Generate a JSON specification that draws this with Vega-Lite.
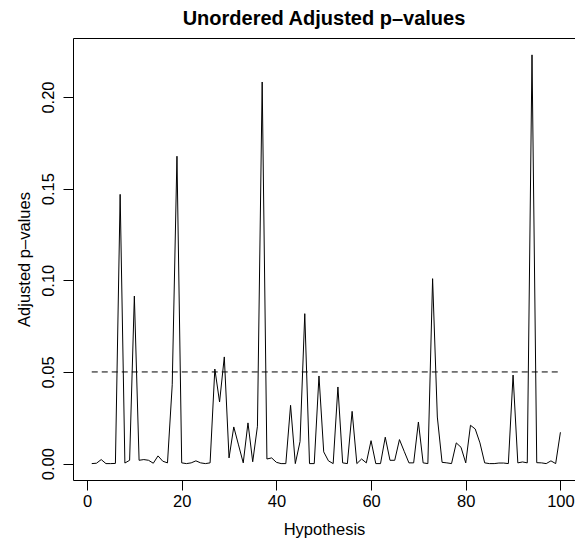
{
  "$schema": "https://vega.github.io/schema/vega-lite/v6.json",
  "width": 502,
  "height": 442,
  "autosize": "none",
  "padding": {"left": 73, "top": 38, "right": 0, "bottom": 61},
  "background": "white",
  "title": {
    "text": "Unordered Adjusted p–values",
    "font": "Liberation Sans",
    "fontSize": 20,
    "fontWeight": "bold",
    "anchor": "middle",
    "offset": 9,
    "color": "black"
  },
  "config": {
    "view": {"stroke": null},
    "axis": {
      "domainColor": "black",
      "domainWidth": 1,
      "tickColor": "black",
      "tickWidth": 1,
      "tickSize": 10,
      "labelColor": "black",
      "titleColor": "black",
      "labelFont": "Liberation Sans",
      "titleFont": "Liberation Sans",
      "labelFontSize": 16.5,
      "titleFontSize": 16.5,
      "titleFontWeight": "normal",
      "grid": false
    }
  },
  "datasets": {
    "pv": [
      {"hypothesis": 1, "p": 0.0000},
      {"hypothesis": 2, "p": 0.0002},
      {"hypothesis": 3, "p": 0.0022},
      {"hypothesis": 4, "p": 0.0000},
      {"hypothesis": 5, "p": 0.0000},
      {"hypothesis": 6, "p": 0.0001},
      {"hypothesis": 7, "p": 0.1469},
      {"hypothesis": 8, "p": 0.0003},
      {"hypothesis": 9, "p": 0.0018},
      {"hypothesis": 10, "p": 0.0914},
      {"hypothesis": 11, "p": 0.0018},
      {"hypothesis": 12, "p": 0.0022},
      {"hypothesis": 13, "p": 0.0018},
      {"hypothesis": 14, "p": 0.0002},
      {"hypothesis": 15, "p": 0.0042},
      {"hypothesis": 16, "p": 0.0013},
      {"hypothesis": 17, "p": 0.0004},
      {"hypothesis": 18, "p": 0.0430},
      {"hypothesis": 19, "p": 0.1677},
      {"hypothesis": 20, "p": 0.0004},
      {"hypothesis": 21, "p": 0.0000},
      {"hypothesis": 22, "p": 0.0004},
      {"hypothesis": 23, "p": 0.0015},
      {"hypothesis": 24, "p": 0.0004},
      {"hypothesis": 25, "p": 0.0000},
      {"hypothesis": 26, "p": 0.0004},
      {"hypothesis": 27, "p": 0.0516},
      {"hypothesis": 28, "p": 0.0336},
      {"hypothesis": 29, "p": 0.0582},
      {"hypothesis": 30, "p": 0.0031},
      {"hypothesis": 31, "p": 0.0200},
      {"hypothesis": 32, "p": 0.0102},
      {"hypothesis": 33, "p": 0.0004},
      {"hypothesis": 34, "p": 0.0222},
      {"hypothesis": 35, "p": 0.0010},
      {"hypothesis": 36, "p": 0.0204},
      {"hypothesis": 37, "p": 0.2082},
      {"hypothesis": 38, "p": 0.0025},
      {"hypothesis": 39, "p": 0.0031},
      {"hypothesis": 40, "p": 0.0007},
      {"hypothesis": 41, "p": 0.0000},
      {"hypothesis": 42, "p": 0.0000},
      {"hypothesis": 43, "p": 0.0318},
      {"hypothesis": 44, "p": 0.0000},
      {"hypothesis": 45, "p": 0.0120},
      {"hypothesis": 46, "p": 0.0818},
      {"hypothesis": 47, "p": 0.0000},
      {"hypothesis": 48, "p": 0.0000},
      {"hypothesis": 49, "p": 0.0478},
      {"hypothesis": 50, "p": 0.0064},
      {"hypothesis": 51, "p": 0.0015},
      {"hypothesis": 52, "p": 0.0000},
      {"hypothesis": 53, "p": 0.0418},
      {"hypothesis": 54, "p": 0.0004},
      {"hypothesis": 55, "p": 0.0000},
      {"hypothesis": 56, "p": 0.0285},
      {"hypothesis": 57, "p": 0.0000},
      {"hypothesis": 58, "p": 0.0025},
      {"hypothesis": 59, "p": 0.0004},
      {"hypothesis": 60, "p": 0.0125},
      {"hypothesis": 61, "p": 0.0000},
      {"hypothesis": 62, "p": 0.0000},
      {"hypothesis": 63, "p": 0.0144},
      {"hypothesis": 64, "p": 0.0018},
      {"hypothesis": 65, "p": 0.0018},
      {"hypothesis": 66, "p": 0.0131},
      {"hypothesis": 67, "p": 0.0067},
      {"hypothesis": 68, "p": 0.0004},
      {"hypothesis": 69, "p": 0.0004},
      {"hypothesis": 70, "p": 0.0227},
      {"hypothesis": 71, "p": 0.0004},
      {"hypothesis": 72, "p": 0.0000},
      {"hypothesis": 73, "p": 0.1009},
      {"hypothesis": 74, "p": 0.0254},
      {"hypothesis": 75, "p": 0.0007},
      {"hypothesis": 76, "p": 0.0004},
      {"hypothesis": 77, "p": 0.0000},
      {"hypothesis": 78, "p": 0.0113},
      {"hypothesis": 79, "p": 0.0089},
      {"hypothesis": 80, "p": 0.0004},
      {"hypothesis": 81, "p": 0.0209},
      {"hypothesis": 82, "p": 0.0189},
      {"hypothesis": 83, "p": 0.0113},
      {"hypothesis": 84, "p": 0.0004},
      {"hypothesis": 85, "p": 0.0000},
      {"hypothesis": 86, "p": 0.0000},
      {"hypothesis": 87, "p": 0.0003},
      {"hypothesis": 88, "p": 0.0003},
      {"hypothesis": 89, "p": 0.0000},
      {"hypothesis": 90, "p": 0.0483},
      {"hypothesis": 91, "p": 0.0004},
      {"hypothesis": 92, "p": 0.0009},
      {"hypothesis": 93, "p": 0.0004},
      {"hypothesis": 94, "p": 0.2230},
      {"hypothesis": 95, "p": 0.0005},
      {"hypothesis": 96, "p": 0.0004},
      {"hypothesis": 97, "p": 0.0000},
      {"hypothesis": 98, "p": 0.0015},
      {"hypothesis": 99, "p": 0.0000},
      {"hypothesis": 100, "p": 0.0171}
    ],
    "ref": [{"x1": 1, "x2": 100, "y": 0.05}]
  },
  "layer": [
    {
      "data": {"name": "pv"},
      "mark": {"type": "line", "color": "black", "strokeWidth": 1},
      "encoding": {
        "x": {
          "field": "hypothesis",
          "type": "quantitative",
          "scale": {"domain": [-2.96, 103.08], "nice": false, "zero": false},
          "axis": {
            "orient": "bottom",
            "values": [0, 20, 40, 60, 80, 100],
            "title": "Hypothesis",
            "labelPadding": 3,
            "titlePadding": 12,
            "labelFlush": false,
            "labelOverlap": false
          }
        },
        "y": {
          "field": "p",
          "type": "quantitative",
          "scale": {"domain": [-0.00895, 0.2322], "nice": false, "zero": false},
          "axis": {
            "values": [0, 0.05, 0.1, 0.15, 0.2],
            "format": ".2f",
            "title": "Adjusted p–values",
            "labelAngle": -90,
            "labelAlign": "center",
            "labelBaseline": "alphabetic",
            "labelPadding": 10,
            "titlePadding": 8,
            "labelFlush": false,
            "labelOverlap": false
          }
        }
      }
    },
    {
      "data": {"name": "ref"},
      "mark": {"type": "rule", "color": "black", "strokeWidth": 1, "strokeDash": [6, 4]},
      "encoding": {
        "x": {
          "field": "x1",
          "type": "quantitative",
          "axis": {"orient": "top", "labels": false, "ticks": false, "title": null, "domain": true, "grid": false}
        },
        "x2": {"field": "x2"},
        "y": {"field": "y", "type": "quantitative"}
      }
    }
  ],
  "resolve": {"axis": {"x": "independent"}}
}
